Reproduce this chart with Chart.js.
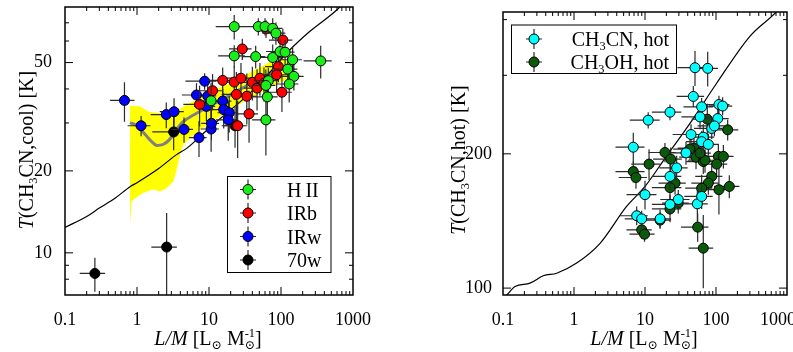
<!DOCTYPE html>
<html lang="en">
<head>
<meta charset="UTF-8">
<title>CH3CN temperatures vs L/M</title>
<script src="https://cdn.jsdelivr.net/npm/chart.js"></script>
<style>
  body { margin: 0; background: #fff; overflow: hidden; }
  .wrap { position: relative; width: 793px; height: 352px; }
  #coolChart { position: absolute; left: 0; top: 0; }
  #hotChart { position: absolute; left: 400px; top: 0; }
</style>
</head>
<body>
<div class="wrap">
  <canvas id="coolChart" width="400" height="352"></canvas>
  <canvas id="hotChart" width="393" height="352"></canvas>
</div>
<script>
// ---------- left panel: T(CH3CN, cool) ----------
const coolXTicks = [0.1, 1, 10, 100, 1000];
const coolYTicks = [10, 20, 50];

// rows: [L/M, T, err L/M, err T]
const hiiPoints = [
  [22.4, 67.8, 10, 7], [48.4, 67.8, 18, 5], [60, 67.8, 20, 5], [76.7, 66.8, 28, 6],
  [85, 64.1, 30, 6], [22.4, 52.9, 9, 5], [44.5, 52.6, 16, 5], [76.7, 52.2, 28, 6],
  [97, 54.9, 35, 6], [114, 54.6, 40, 6], [145, 51.2, 50, 6], [356, 50.7, 150, 7],
  [124, 47.3, 45, 5], [151, 44.5, 55, 5], [130, 41.7, 45, 6], [66.7, 42.9, 25, 5],
  [61.6, 41.2, 22, 6], [64.6, 37.4, 25, 8], [61.7, 30.8, 22, 8], [10.7, 36.2, 4, 6]
];
const irbPoints = [
  [62, 66.5, 20, 5], [106, 60.5, 38, 6], [29, 56.1, 10, 5], [92, 48.3, 32, 6],
  [87, 45.1, 35, 6], [103, 38.9, 38, 6], [15.5, 43.0, 6, 5], [22.4, 42.4, 8, 6],
  [27.8, 43.8, 10, 6], [40, 42.3, 14, 6], [51, 43.8, 18, 6], [46.5, 40.3, 16, 7],
  [33.5, 37.6, 12, 8], [24, 38.2, 9, 8], [11.2, 39.4, 4, 6], [7.4, 35.1, 3, 6],
  [36, 32.4, 12, 7], [25, 29.3, 9, 7], [58, 42.0, 20, 6]
];
const irwPoints = [
  [0.67, 36.3, 0.25, 6], [1.14, 29.3, 0.4, 2.5], [2.55, 32.2, 1.0, 3.5], [3.27, 33.0, 1.2, 4],
  [4.5, 28.4, 1.5, 3], [7.26, 26.5, 2, 4], [6.7, 38.0, 2.5, 4], [8.7, 42.7, 4, 3],
  [9.2, 34.5, 3, 4], [9.6, 37.7, 3, 4], [10.7, 28.5, 3, 5], [10.8, 29.9, 3, 4],
  [15.5, 36.1, 5, 4], [16.0, 33.6, 6, 5], [19.1, 32.7, 6, 5], [18.5, 30.8, 6, 5]
];
const w70Points = [
  [0.26, 8.4, 0.1, 1.2], [2.58, 10.5, 1.0, 3.5], [3.23, 27.8, 1.6, 4], [23, 29.3, 8, 5]
];

const bandX     = [0.8, 0.84, 0.9, 1.1, 1.22, 1.45, 1.7, 2.1, 2.6, 3.2, 3.55, 3.9, 4.4, 6, 8, 10.4, 17.7, 30, 51, 70, 100, 140];
const bandUpper = [34.7, 34.7, 34.6, 34.5, 34.0, 33.0, 32.8, 32.6, 32.5, 32.6, 33.0, 33.6, 34.5, 36.0, 37.5, 39.0, 41.5, 44.5, 48.0, 50.2, 51.5, 51.5];
const bandLower = [12.7, 15.4, 15.7, 16.3, 16.6, 16.9, 17.1, 16.8, 17.3, 18.3, 20.2, 22.5, 25.0, 27.0, 28.6, 30.0, 33.0, 35.8, 38.5, 40.5, 42.5, 44.0];

const medianX = [0.8, 1.0, 1.3, 1.6, 1.9, 2.3, 2.8, 3.5, 4.5, 6, 10, 18, 30, 50, 80, 140];
const medianY = [30.1, 29.3, 27.2, 25.6, 24.8, 25.0, 26.0, 28.3, 30.5, 32.0, 34.5, 37.5, 40.5, 43.5, 46.5, 48.5];

const coolModelX = [0.1, 0.2, 0.3, 0.5, 0.8, 1, 2, 3.5, 5, 10, 20, 37, 60, 126, 250, 594, 1000];
const coolModelY = [12.4, 13.6, 14.6, 15.9, 17.5, 18.1, 20.4, 22.9, 24.3, 28.7, 33.5, 38.6, 44, 54.9, 65, 78, 90];

// ---------- right panel: T(CH3CN, hot) ----------
const hotXTicks = [0.1, 1, 10, 100, 1000];
const hotYTicks = [100, 200];

const ch3cnHot = [
  [50.6, 312, 22, 28], [76.4, 311, 30, 28], [47.9, 269, 20, 15], [22.5, 248, 10, 10],
  [11.1, 238, 5, 10], [62.8, 255, 28, 12], [110, 258, 45, 12], [124, 256, 45, 12],
  [59.6, 242, 27, 15], [106, 240, 45, 12], [87, 228, 38, 12], [95, 231, 40, 12],
  [44.5, 221, 20, 12], [66.2, 218, 28, 15], [62.8, 213, 25, 12], [78, 210, 32, 12],
  [37.8, 201, 17, 12], [6.84, 207, 3, 16], [22.5, 178, 10, 12], [27.9, 186, 12, 12],
  [10, 162, 4.5, 12], [29.4, 158, 13, 8], [22.5, 154, 10, 8], [54.6, 154.5, 22, 14],
  [62.8, 160.5, 27, 10], [7.64, 145.3, 3.3, 7], [8.98, 143, 3.8, 6], [16.3, 143, 7, 7]
];
const ch3ohHot = [
  [19.1, 201.4, 8, 10], [11.4, 189.7, 5, 15], [23, 194.6, 10, 12], [6.84, 182.5, 3, 10],
  [7.46, 177, 3.2, 10], [48.9, 206, 20, 12], [52.3, 196.6, 22, 12], [66.2, 192.2, 28, 12],
  [70, 193.5, 30, 12], [59.6, 200.8, 25, 12], [108, 197.4, 45, 12], [127, 197.4, 50, 12],
  [102, 189.7, 42, 12], [146, 226.4, 60, 12], [75.4, 239.2, 30, 20], [43, 205, 18, 12],
  [87, 178, 36, 10], [78, 172, 33, 10], [62.8, 167.5, 26, 12], [110, 166.2, 45, 20],
  [154, 169, 60, 10], [26.5, 172, 11, 10], [22.5, 168, 10, 10], [22.5, 150.5, 10, 10],
  [29.4, 155, 12, 8], [55.2, 137, 23, 10], [66.2, 122.9, 25, 23], [8.98, 135.1, 3.5, 6],
  [9.85, 132.1, 3.8, 5], [16.3, 142, 7, 6]
];

const hotModelX = [0.11, 0.148, 0.24, 0.37, 0.57, 1.09, 2.33, 5.5, 10, 20, 43, 102, 300, 716, 1000];
const hotModelY = [96, 100.8, 102.6, 106.6, 108, 113.8, 126, 152.4, 169, 197.4, 234, 288, 367, 417, 445];

// ---------- helpers ----------
const SERIF = "'Liberation Serif', 'DejaVu Serif', serif";
const xy = (xs, ys) => xs.map((x, i) => ({ x: x, y: ys[i] }));

function pointSet(label, rows, color, order) {
  return {
    label: label,
    data: rows.map(r => ({ x: r[0], y: r[1] })),
    errors: rows,
    backgroundColor: color,
    borderColor: '#000',
    borderWidth: 1,
    pointRadius: 5,
    pointHoverRadius: 5,
    showLine: false,
    order: order
  };
}

function curve(xs, ys, color, width, order) {
  return {
    type: 'line',
    data: xy(xs, ys),
    borderColor: color,
    borderWidth: width,
    pointRadius: 0,
    fill: false,
    cubicInterpolationMode: 'monotone',
    order: order
  };
}

// error bars drawn right before each point series
const errorBars = {
  id: 'errorBars',
  beforeDatasetDraw(chart, args) {
    const ds = chart.data.datasets[args.index];
    if (!ds.errors) return;
    const { ctx, chartArea: a, scales: { x, y } } = chart;
    ctx.save();
    ctx.beginPath();
    ctx.rect(a.left, a.top, a.width, a.height);
    ctx.clip();
    ctx.strokeStyle = '#2b2b2b';
    ctx.lineWidth = 1.2;
    ctx.beginPath();
    ds.errors.forEach(r => {
      const cx = x.getPixelForValue(r[0]), cy = y.getPixelForValue(r[1]);
      ctx.moveTo(x.getPixelForValue(Math.max(r[0] - r[2], 1e-4)), cy);
      ctx.lineTo(x.getPixelForValue(r[0] + r[2]), cy);
      ctx.moveTo(cx, y.getPixelForValue(Math.max(r[1] - r[3], 1e-4)));
      ctx.lineTo(cx, y.getPixelForValue(r[1] + r[3]));
    });
    ctx.stroke();
    ctx.restore();
  }
};

function logTicks(scale, majors, fn) {
  const lo = Math.floor(Math.log10(scale.min)), hi = Math.ceil(Math.log10(scale.max));
  for (let e = lo; e <= hi; e++) {
    for (let m = 1; m < 10; m++) {
      const v = m * Math.pow(10, e);
      if (v < scale.min * 1.001 || v > scale.max * 0.999) continue;
      const major = majors.some(t => Math.abs(t - v) / v < 1e-6);
      fn(scale.getPixelForValue(v), major ? 8 : 4);
    }
  }
}

// rich text: parts = {t, i, sub, sup, stack:[sup, sub]}
function partFont(p, size) {
  const s = (p.sub || p.sup || p.stack) ? size * 0.62 : size;
  return (p.i ? 'italic ' : '') + s.toFixed(1) + 'px ' + SERIF;
}
function partWidth(ctx, p, size) {
  ctx.font = partFont(p, size);
  if (p.stack) return Math.max(ctx.measureText(p.stack[0]).width, ctx.measureText(p.stack[1]).width);
  return ctx.measureText(p.t).width;
}
function drawRich(ctx, parts, x, y, size, align) {
  const total = parts.reduce((w, p) => w + partWidth(ctx, p, size), 0);
  let cx = align === 'center' ? x - total / 2 : align === 'right' ? x - total : x;
  ctx.textAlign = 'left';
  ctx.textBaseline = 'alphabetic';
  ctx.fillStyle = '#000';
  parts.forEach(p => {
    const w = partWidth(ctx, p, size);
    if (p.stack) {
      ctx.fillText(p.stack[0], cx, y - size * 0.4);
      ctx.fillText(p.stack[1], cx, y + size * 0.22);
    } else {
      ctx.fillText(p.t, cx, y + (p.sub ? size * 0.22 : p.sup ? -size * 0.4 : 0));
    }
    cx += w;
  });
}

const decorations = {
  id: 'decorations',
  afterDatasetsDraw(chart, args, opts) {
    const { ctx, chartArea: a, scales: { x, y } } = chart;
    ctx.save();
    ctx.strokeStyle = '#000';
    ctx.lineWidth = 1;
    ctx.beginPath();
    logTicks(x, opts.xMajor, (p, len) => {
      ctx.moveTo(p, a.bottom); ctx.lineTo(p, a.bottom - len);
      ctx.moveTo(p, a.top); ctx.lineTo(p, a.top + len);
    });
    logTicks(y, opts.yMajor, (p, len) => {
      ctx.moveTo(a.left, p); ctx.lineTo(a.left + len, p);
      ctx.moveTo(a.right, p); ctx.lineTo(a.right - len, p);
    });
    ctx.stroke();
    ctx.lineWidth = 1.5;
    ctx.strokeRect(a.left, a.top, a.width, a.height);

    // legend box
    const lg = opts.legend;
    ctx.fillStyle = '#fff';
    ctx.fillRect(lg.box[0], lg.box[1], lg.box[2], lg.box[3]);
    ctx.lineWidth = 1;
    ctx.strokeRect(lg.box[0], lg.box[1], lg.box[2], lg.box[3]);
    lg.items.forEach(it => {
      const ds = chart.data.datasets[it.index];
      ctx.strokeStyle = '#2b2b2b';
      ctx.lineWidth = 1.2;
      ctx.beginPath();
      ctx.moveTo(lg.markerX - 8, it.y); ctx.lineTo(lg.markerX + 8, it.y);
      ctx.moveTo(lg.markerX, it.y - 10); ctx.lineTo(lg.markerX, it.y + 10);
      ctx.stroke();
      ctx.beginPath();
      ctx.arc(lg.markerX, it.y, 5, 0, Math.PI * 2);
      ctx.fillStyle = ds.backgroundColor;
      ctx.fill();
      ctx.strokeStyle = '#000';
      ctx.lineWidth = 1;
      ctx.stroke();
      drawRich(ctx, it.parts, lg.textX, it.y + 7, 20, lg.align);
    });

    // axis titles
    drawRich(ctx, opts.xTitle, opts.xTitlePos[0], opts.xTitlePos[1], 20, 'center');
    ctx.translate(opts.yTitlePos[0], opts.yTitlePos[1]);
    ctx.rotate(-Math.PI / 2);
    drawRich(ctx, opts.yTitle, 0, 0, 20, 'center');
    ctx.restore();
  }
};

function logAxis(min, max, ticks, size, label) {
  return {
    type: 'logarithmic',
    min: min,
    max: max,
    afterBuildTicks: s => { s.ticks = ticks.map(v => ({ value: v })); },
    ticks: {
      font: { family: SERIF, size: 18 },
      color: '#000',
      autoSkip: false,
      maxRotation: 0,
      minRotation: 0,
      padding: label.padding,
      callback: label.fmt
    },
    grid: { display: false },
    border: { display: false },
    afterFit: s => {
      if (s.isHorizontal()) { s.height = size; s.paddingLeft = 0; s.paddingRight = 0; }
      else { s.width = size; s.paddingTop = 0; s.paddingBottom = 0; }
    }
  };
}

const xTitle = [
  { t: 'L/M', i: true }, { t: ' [L' }, { t: '\u2299', sub: true },
  { t: ' M' }, { stack: ['-1', '\u2299'] }, { t: ']' }
];

// ---------- left chart ----------
new Chart(document.getElementById('coolChart'), {
  type: 'scatter',
  data: {
    datasets: [
      pointSet('H II', hiiPoints, '#19ee19', 1),
      pointSet('IRb', irbPoints, '#ff0000', 2),
      pointSet('IRw', irwPoints, '#0000ff', 3),
      pointSet('70w', w70Points, '#000000', 4),
      curve(coolModelX, coolModelY, '#000', 1.2, 5),
      curve(medianX, medianY, '#808080', 3, 6),
      { type: 'line', data: xy(bandX, bandUpper), borderWidth: 0, pointRadius: 0,
        backgroundColor: '#ffff00', fill: '+1', order: 7 },
      { type: 'line', data: xy(bandX, bandLower), borderWidth: 0, pointRadius: 0,
        fill: false, order: 8 }
    ]
  },
  options: {
    responsive: false,
    animation: false,
    events: [],
    layout: { padding: { left: 0, right: 47, top: 7, bottom: 0 } },
    scales: {
      x: logAxis(0.1, 1000, coolXTicks, 57, { padding: 6, fmt: v => String(v) }),
      y: logAxis(7, 80, coolYTicks, 65, { padding: 5, fmt: v => String(v) })
    },
    plugins: {
      legend: { display: false },
      tooltip: { enabled: false },
      decorations: {
        xMajor: coolXTicks,
        yMajor: coolYTicks,
        xTitle: xTitle,
        xTitlePos: [208, 345],
        yTitle: [{ t: 'T', i: true }, { t: '(CH' }, { t: '3', sub: true }, { t: 'CN,cool) [K]' }],
        yTitlePos: [33, 150],
        legend: {
          box: [227.5, 176.5, 103.5, 96],
          markerX: 248,
          textX: 287,
          align: 'left',
          items: [
            { index: 0, y: 189.5, parts: [{ t: 'H\u2009II' }] },
            { index: 1, y: 213, parts: [{ t: 'IRb' }] },
            { index: 2, y: 236.5, parts: [{ t: 'IRw' }] },
            { index: 3, y: 260, parts: [{ t: '70w' }] }
          ]
        }
      }
    }
  },
  plugins: [errorBars, decorations]
});

// ---------- right chart ----------
new Chart(document.getElementById('hotChart'), {
  type: 'scatter',
  data: {
    datasets: [
      pointSet('CH3CN, hot', ch3cnHot, '#00ffff', 1),
      pointSet('CH3OH, hot', ch3ohHot, '#0b5a0b', 2),
      curve(hotModelX, hotModelY, '#000', 1.2, 3)
    ]
  },
  options: {
    responsive: false,
    animation: false,
    events: [],
    layout: { padding: { left: 0, right: 6, top: 12, bottom: 0 } },
    scales: {
      x: logAxis(0.1, 1000, hotXTicks, 57, { padding: 6, fmt: v => v === 1000 ? '1000\u2002\u2002' : String(v) }),
      y: logAxis(96.5, 416, hotYTicks, 103, { padding: 3, fmt: v => String(v) })
    },
    plugins: {
      legend: { display: false },
      tooltip: { enabled: false },
      decorations: {
        xMajor: hotXTicks,
        yMajor: hotYTicks,
        xTitle: xTitle,
        xTitlePos: [244, 345],
        yTitle: [{ t: 'T', i: true }, { t: '(CH' }, { t: '3', sub: true }, { t: 'CN,hot) [K]' }],
        yTitlePos: [65, 160],
        legend: {
          box: [111.5, 25, 165, 48.5],
          markerX: 134,
          textX: 269,
          align: 'right',
          items: [
            { index: 0, y: 39, parts: [{ t: 'CH' }, { t: '3', sub: true }, { t: 'CN, hot' }] },
            { index: 1, y: 62, parts: [{ t: 'CH' }, { t: '3', sub: true }, { t: 'OH, hot' }] }
          ]
        }
      }
    }
  },
  plugins: [errorBars, decorations]
});
</script>
</body>
</html>
